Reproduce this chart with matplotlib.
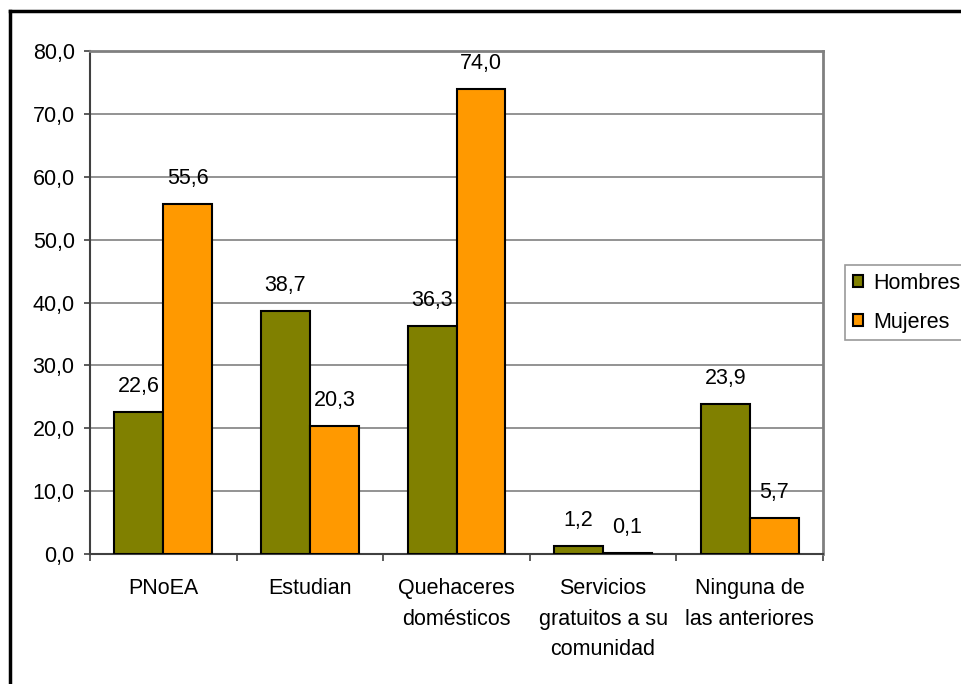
import matplotlib.pyplot as plt
from matplotlib.lines import Line2D
import numpy as np

plt.rcParams['font.family'] = ['Liberation Sans', 'DejaVu Sans']

categorias = ['PNoEA', 'Estudian', 'Quehaceres\ndomésticos',
              'Servicios\ngratuitos a su\ncomunidad', 'Ninguna de\nlas anteriores']
hombres = [22.6, 38.7, 36.3, 1.2, 23.9]
mujeres = [55.6, 20.3, 74.0, 0.1, 5.7]
series = ['Hombres', 'Mujeres']
colores = ['#808000', '#FF9900']
yticks = [0, 10, 20, 30, 40, 50, 60, 70, 80]

fig = plt.figure(figsize=(9.61, 6.84), dpi=100)
ax = fig.add_axes([90/961, 1 - 554/684, (823 - 90)/961, (554 - 51)/684])

x = np.arange(len(categorias)) + 0.5
w = 1/3
fs = 15.5

for i, (vals, col, name) in enumerate(zip([hombres, mujeres], colores, series)):
    pos = x - w/2 + i*w
    ax.bar(pos, vals, width=w, color=col, edgecolor='black', linewidth=1.5,
           label=name, zorder=3)
    for p, v in zip(pos, vals):
        ax.annotate(f'{v:.1f}'.replace('.', ','), (p, v), xytext=(0, 14.5),
                    textcoords='offset points', ha='center', va='baseline',
                    fontsize=fs)

ax.set_xlim(0, len(categorias))
ax.set_ylim(0, 80)
ax.set_yticks(yticks)
ax.set_yticklabels([f'{t:.1f}'.replace('.', ',') for t in yticks], fontsize=fs)
ax.set_xticks(np.arange(len(categorias) + 1))
ax.set_xticklabels([])
ax.set_xticks(x, minor=True)
ax.set_xticklabels(categorias, minor=True, fontsize=fs, linespacing=1.62)
ax.tick_params(axis='x', which='major', length=5, width=1.2, color='#404040')
ax.tick_params(axis='x', which='minor', length=0, pad=17)
ax.tick_params(axis='y', length=4, width=1.2, color='#404040', pad=7)

ax.yaxis.grid(True, color='#808080', linewidth=1.2, zorder=0)
ax.set_axisbelow(True)
for s in ['left', 'bottom']:
    ax.spines[s].set_color('#404040')
    ax.spines[s].set_linewidth(1.5)
for s in ['top', 'right']:
    ax.spines[s].set_color('#808080')
    ax.spines[s].set_linewidth(2)

leg = fig.legend(loc='upper left', bbox_to_anchor=(845/961, 1 - 265/684),
                 fontsize=fs, frameon=True, fancybox=False, edgecolor='#808080',
                 handlelength=0.5, handleheight=0.5, handletextpad=0.45,
                 borderpad=0.35, labelspacing=0.85, borderaxespad=0)
leg.get_frame().set_linewidth(1.2)

# marco exterior
fig.add_artist(Line2D([10/961, 10/961], [0, 1 - 10.5/684], color='black', linewidth=2.5))
fig.add_artist(Line2D([10/961, 1], [1 - 10.5/684, 1 - 10.5/684], color='black', linewidth=2.5))

fig.savefig('out.png', dpi=100)
